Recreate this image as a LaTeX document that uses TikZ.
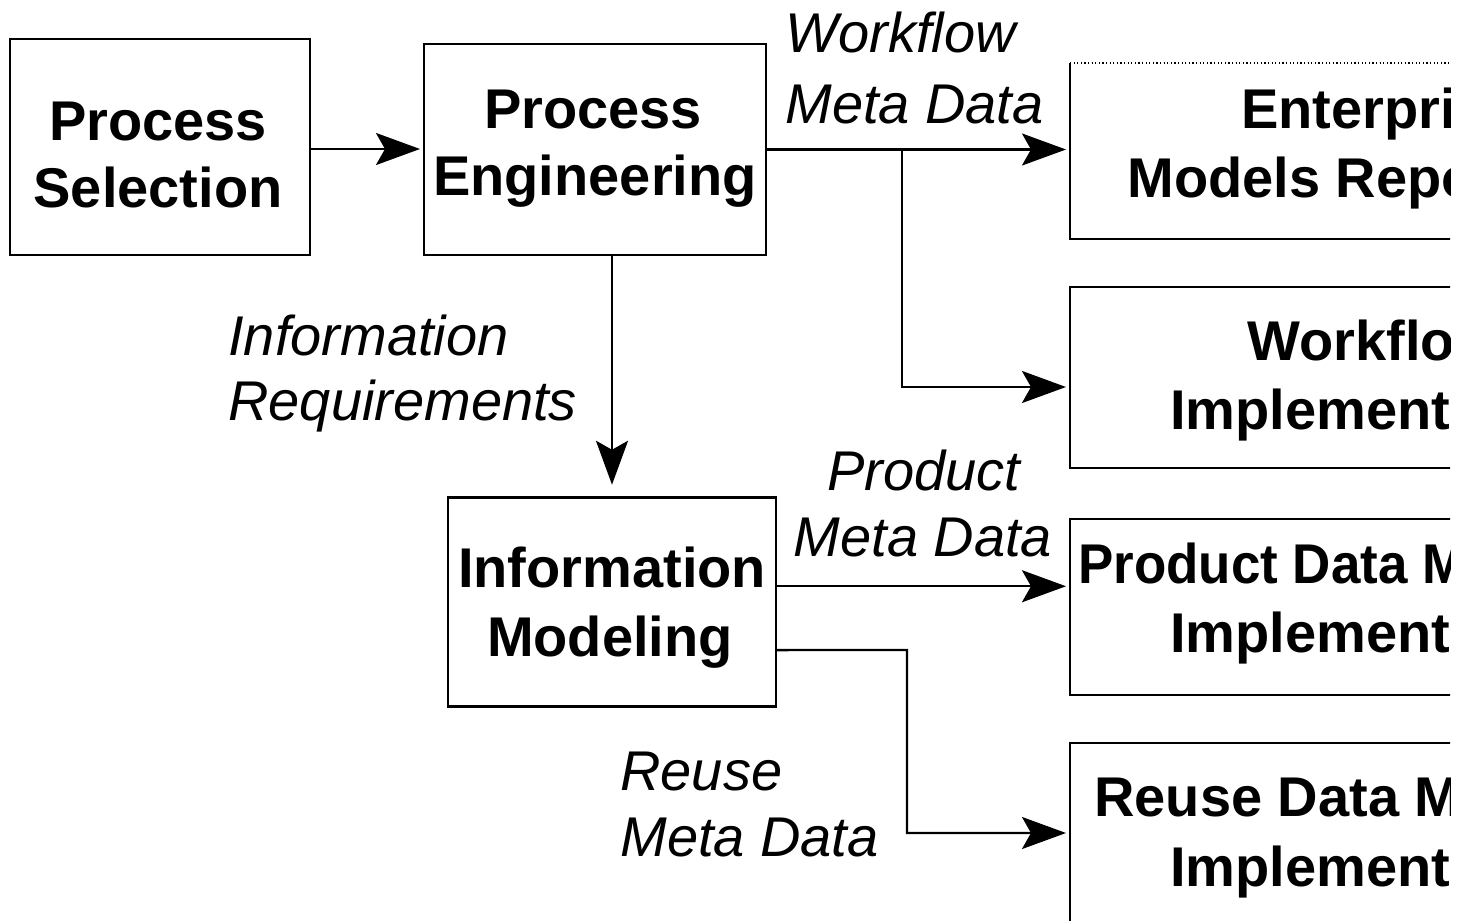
\documentclass[tikz,border=0pt]{standalone}
\usepackage{fontspec}
\setmainfont{Liberation Sans}
\usetikzlibrary{arrows.meta}
\begin{document}
\begin{tikzpicture}[x=0.5pt,y=-0.5pt,
  box/.style={draw, line width=1.4pt, inner sep=0pt, outer sep=0pt},
  frame/.style={inner sep=0pt, outer sep=0pt},
  bold/.style={inner sep=0pt, font=\bfseries\fontsize{28pt}{34pt}\selectfont},
  ital/.style={inner sep=0pt, font=\itshape\fontsize{28pt}{34pt}\selectfont},
  arr/.style={line width=1.2pt, -{Stealth[length=22pt,width=16pt,inset=4.5pt]}, shorten >=2pt},
  link/.style={line width=1.2pt}]
\useasboundingbox (0,0) rectangle (1469,921);
\begin{scope}
\clip (0,0) rectangle (1450,921);

% process boxes
\node[box, minimum width=150pt, minimum height=108pt]  (ps)  at (160,147)    {};
\node[box, minimum width=171pt, minimum height=105.5pt] (pe) at (595,149.5)  {};
\node[box, minimum width=164pt, minimum height=104.5pt] (im) at (612,602.25) {};

% implementation boxes on the right
\node[frame, minimum width=310pt, minimum height=88pt]  (emr) at (1380,151)   {};
\node[box,   minimum width=310pt, minimum height=90.5pt] (wf) at (1380,377.5) {};
\node[box,   minimum width=310pt, minimum height=88pt]  (pdm) at (1380,607)   {};
\node[box,   minimum width=310pt, minimum height=95pt]  (rdm) at (1380,838)   {};

% repository frame: solid sides, dotted top
\draw[line width=1.4pt] (emr.north west) -- (emr.south west) -- (emr.south east) -- (emr.north east);
\draw[line width=0.8pt, dash pattern=on 0.6pt off 1.2pt] (emr.north west) -- (emr.north east);

% box captions
\node[bold, anchor=base] (ps-a) at (158,140) {Process};
\node[bold, anchor=base] (ps-b) at (158,207) {Selection};
\node[bold, anchor=base] (pe-a) at (593,128) {Process};
\node[bold, anchor=base] (pe-b) at (595,195) {Engineering};
\node[bold, anchor=base] (im-a) at (612,587) {Information};
\node[bold, anchor=base] (im-b) at (610,656) {Modeling};

\node[bold, anchor=base west] (emr-a) at (1241,128) {Enterprise};
\node[bold, anchor=base west] (emr-b) at (1127,197) {Models Repository};
\node[bold, anchor=base west] (wf-a)  at (1247,360) {Workflow};
\node[bold, anchor=base west] (wf-b)  at (1170,429) {Implementation};
\node[bold, anchor=base west] (pdm-a) at (1078,583) {\scalebox{0.945}[1]{Product Data Management}};
\node[bold, anchor=base west] (pdm-b) at (1170,652) {Implementation};
\node[bold, anchor=base west] (rdm-a) at (1094,816) {Reuse Data Management};
\node[bold, anchor=base west] (rdm-b) at (1170,886) {Implementation};

% flow labels
\node[ital, anchor=base west] (wm-a) at (785,53)  {Workflow};
\node[ital, anchor=base west] (wm-b) at (785,123) {Meta Data};
\node[ital, anchor=base west] (ir-a) at (228,355) {Information};
\node[ital, anchor=base west] (ir-b) at (228,420) {Requirements};
\node[ital, anchor=base]      (pm-a) at (924,490) {Product};
\node[ital, anchor=base]      (pm-b) at (923,556) {Meta Data};
\node[ital, anchor=base west] (rm-a) at (620,790) {Reuse};
\node[ital, anchor=base west] (rm-b) at (620,856) {Meta Data};

% connectors
\draw[arr] (ps.east |- 0,149) -- (pe.west |- 0,149);
\coordinate (split) at (902,149.5);
\draw[arr] (pe.east) -- (pe.east -| emr.west);
\draw[arr] (split) |- ([yshift=-4.75pt]wf.west);
\draw[arr, shorten >=6.5pt] (pe.south -| im.north) -- (im.north);
\draw[arr] ([yshift=8pt]im.east) -- ([yshift=8pt]im.east -| pdm.west);
\coordinate (reuse-turn) at (907,650);
\draw[arr] ([yshift=-23.9pt]im.east) -- (reuse-turn) |- ([yshift=2.5pt]rdm.west);
\end{scope}
\end{tikzpicture}
\end{document}
